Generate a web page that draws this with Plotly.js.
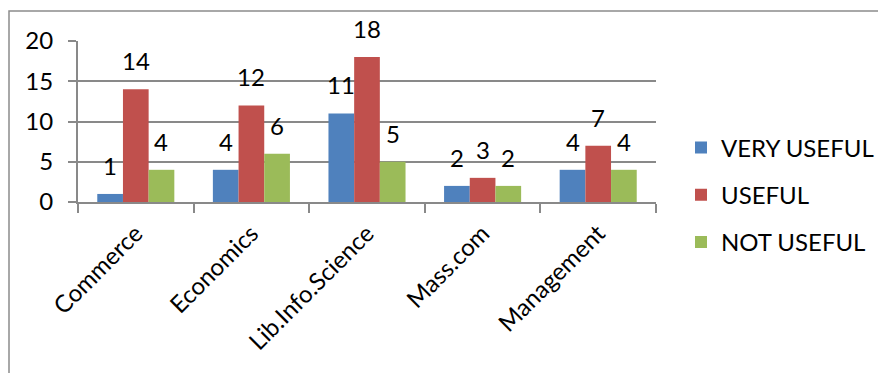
<!DOCTYPE html>
<html>
<head>
<meta charset="utf-8">
<script src="https://cdn.plot.ly/plotly-3.0.1.min.js"></script>
<style>
  html, body { margin: 0; padding: 0; background: #fff; }
  #chart { width: 878px; height: 373px; }
</style>
</head>
<body>
<div id="chart"></div>
<script>
// Departments surveyed
const categories = ['Commerce', 'Economics', 'Lib.Info.Science', 'Mass.com', 'Management'];

// Responses per department
const veryUseful = [1, 4, 11, 2, 4];
const useful     = [14, 12, 18, 3, 7];
const notUseful  = [4, 6, 5, 2, 4];

const seriesNames  = ['VERY USEFUL', 'USEFUL', 'NOT USEFUL'];
const seriesColors = ['#4F81BD', '#C0504D', '#9BBB59'];
const seriesValues = [veryUseful, useful, notUseful];

const yTicks = [0, 5, 10, 15, 20];

const FONT = 'Lato, "Liberation Sans", Arial, sans-serif';
const FS = 24;
const GRID = '#898989';

// plot-area geometry (pixels) used for bar offsets of the value labels
const W = 878, H = 373;
const M = { l: 78, r: 222, t: 41, b: 171, autoexpand: false };
const plotW = W - M.l - M.r;
const plotH = H - M.t - M.b;
const catW = plotW / categories.length;
const bargap = 1 / 3;
const barW = catW * (1 - bargap) / seriesValues.length;

const traces = seriesValues.map((vals, i) => ({
  type: 'bar',
  name: seriesNames[i],
  x: categories,
  y: vals,
  marker: { color: seriesColors[i], line: { width: 0 } },
  legendgroup: 'g' + i,
  hoverinfo: 'x+y+name'
}));

// value labels above each bar
const annotations = [];
seriesValues.forEach((vals, i) => {
  vals.forEach((v, j) => {
    annotations.push({
      x: categories[j], y: v, xref: 'x', yref: 'y',
      text: String(v), showarrow: false,
      xanchor: 'center', yanchor: 'bottom',
      xshift: (i - 1) * barW, yshift: 12,
      font: { family: FONT, size: FS, color: '#000' }
    });
  });
});

// outer chart frame (left and top edges)
const fx = (px) => (px - M.l) / plotW;
const fy = (py) => (H - M.b - py) / plotH;
const shapes = [{
  type: 'path', xref: 'paper', yref: 'paper',
  path: `M ${fx(9)} ${fy(H + 10)} L ${fx(9)} ${fy(11)} L ${fx(W + 10)} ${fy(11)}`,
  line: { color: '#8c8c8c', width: 1.5 }
}];

const layout = {
  width: W, height: H,
  margin: M,
  paper_bgcolor: '#fff', plot_bgcolor: '#fff',
  font: { family: FONT, size: FS, color: '#000' },
  barmode: 'group',
  bargap: bargap,
  bargroupgap: 0,
  showlegend: true,
  legend: {
    x: fx(681), xanchor: 'left',
    y: fy(195), yanchor: 'middle',
    font: { family: FONT, size: FS, color: '#000' },
    tracegroupgap: 13,
    traceorder: 'grouped'
  },
  xaxis: {
    type: 'category',
    categoryorder: 'array', categoryarray: categories,
    tickangle: -45,
    tickson: 'boundaries',
    ticks: 'outside', ticklen: 9, tickwidth: 2, tickcolor: GRID,
    ticklabelstandoff: 6,
    showline: true, linecolor: GRID, linewidth: 2,
    showgrid: false, zeroline: false,
    tickfont: { family: FONT, size: FS, color: '#000' }
  },
  yaxis: {
    range: [0, 20],
    tickvals: yTicks,
    ticktext: yTicks.map(String),
    ticks: 'outside', ticklen: 8, tickwidth: 2, tickcolor: GRID,
    ticklabelstandoff: 10,
    showline: true, linecolor: GRID, linewidth: 2,
    showgrid: true, gridcolor: GRID, gridwidth: 2,
    zeroline: false,
    tickfont: { family: FONT, size: FS, color: '#000' }
  },
  annotations: annotations,
  shapes: shapes
};

Plotly.newPlot('chart', traces, layout, { staticPlot: true, displayModeBar: false });
</script>
</body>
</html>
